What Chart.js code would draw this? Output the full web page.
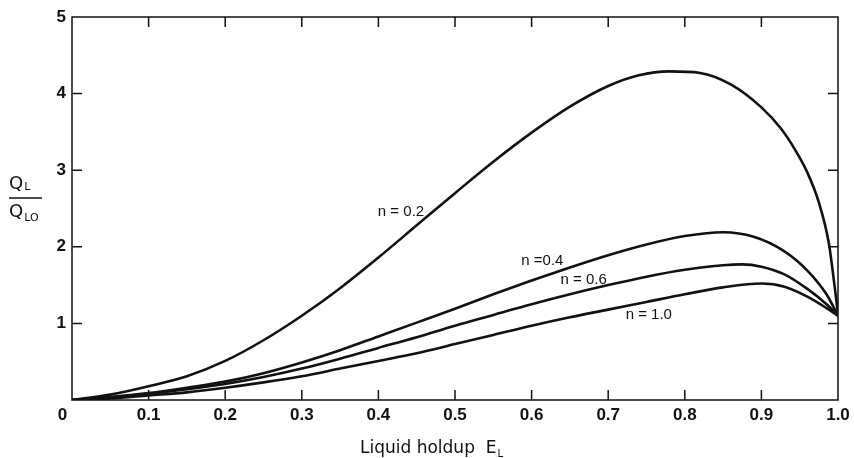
<!DOCTYPE html>
<html><head><meta charset="utf-8">
<script src="https://cdn.jsdelivr.net/npm/chart.js@4.4.0/dist/chart.umd.min.js"></script>
<style>html,body{margin:0;padding:0;background:#fff;}#wrap{width:854px;height:458px;}</style>
</head><body><div id="wrap"><canvas id="c" width="854" height="458"></canvas></div>
<script>
// ---- data ----
const xTickValues = [0,0.1,0.2,0.3,0.4,0.5,0.6,0.7,0.8,0.9,1.0];
const xTickLabels = ["0    ","0.1","0.2","0.3","0.4","0.5","0.6","0.7","0.8","0.9","1.0"];
const yTickValues = [1,2,3,4,5];
const yTickLabels = ["1","2","3","4","5"];

const seriesNames = ["n = 0.2","n = 0.4","n = 0.6","n = 1.0"];

const x_n02 = [0,0.05,0.1,0.15,0.2,0.25,0.3,0.35,0.4,0.45,0.5,0.55,0.6,0.65,0.7,0.74,0.78,0.82,0.86,0.9,0.925,0.945,0.96,0.975,0.988,0.996,1.0];
const y_n02 = [0,0.07,0.18,0.31,0.51,0.78,1.10,1.46,1.86,2.28,2.70,3.11,3.49,3.83,4.10,4.24,4.29,4.27,4.12,3.82,3.55,3.25,2.97,2.58,2.05,1.45,1.12];

const x_n04 = [0,0.05,0.1,0.15,0.2,0.25,0.3,0.35,0.4,0.45,0.5,0.55,0.6,0.65,0.7,0.75,0.8,0.85,0.89,0.93,0.96,0.985,1.0];
const y_n04 = [0,0.04,0.09,0.16,0.24,0.35,0.49,0.65,0.83,1.01,1.19,1.38,1.56,1.73,1.89,2.03,2.14,2.19,2.13,1.94,1.69,1.38,1.10];

const x_n06 = [0,0.05,0.1,0.15,0.2,0.25,0.3,0.35,0.4,0.45,0.5,0.55,0.6,0.65,0.7,0.75,0.8,0.85,0.875,0.9,0.93,0.96,0.985,1.0];
const y_n06 = [0,0.03,0.08,0.14,0.21,0.30,0.41,0.54,0.68,0.82,0.97,1.11,1.25,1.38,1.50,1.61,1.70,1.76,1.77,1.74,1.64,1.45,1.25,1.10];

const x_n10 = [0,0.05,0.1,0.15,0.2,0.25,0.3,0.35,0.4,0.45,0.5,0.55,0.6,0.65,0.7,0.75,0.8,0.85,0.9,0.93,0.96,0.985,1.0];
const y_n10 = [0,0.02,0.06,0.10,0.16,0.23,0.31,0.41,0.51,0.61,0.73,0.85,0.97,1.08,1.18,1.28,1.38,1.47,1.52,1.48,1.35,1.20,1.10];

const curveLabelTexts = ["n = 0.2","n =0.4","n = 0.6","n = 1.0"];
const curveLabelX = [0.4295,0.614,0.668,0.753];
const curveLabelY = [2.45,1.81,1.57,1.11];

const xTitle = "Liquid holdup  E";
const xTitleSub = "L";
const yTitleNum = "Q", yTitleNumSub = "L";
const yTitleDen = "Q", yTitleDenSub = "LO";

// ---- build ----
function pts(xs, ys){ return xs.map((x,i)=>({x:x,y:ys[i]})); }
const allX = [x_n02,x_n04,x_n06,x_n10];
const allY = [y_n02,y_n04,y_n06,y_n10];

const INK = '#111111';

const decor = {
  id:'decor',
  afterDatasetsDraw(chart){
    const ctx = chart.ctx, a = chart.chartArea;
    const xs = chart.scales.x, ys = chart.scales.y;
    ctx.save();
    ctx.strokeStyle = INK; ctx.lineWidth = 1.5;
    ctx.strokeRect(a.left, a.top, a.right-a.left, a.bottom-a.top);
    const tl = 10;
    ctx.beginPath();
    xTickValues.forEach(v=>{
      if (v<=0 || v>=1) return;
      const px = xs.getPixelForValue(v);
      ctx.moveTo(px, a.bottom); ctx.lineTo(px, a.bottom-tl);
      ctx.moveTo(px, a.top); ctx.lineTo(px, a.top+tl);
    });
    yTickValues.forEach(v=>{
      if (v>=5) return;
      const py = ys.getPixelForValue(v);
      ctx.moveTo(a.left, py); ctx.lineTo(a.left+tl, py);
      ctx.moveTo(a.right, py); ctx.lineTo(a.right-tl, py);
    });
    ctx.stroke();

    // curve labels
    ctx.fillStyle = INK;
    ctx.font = '15px "Liberation Sans", Arial, sans-serif';
    ctx.textAlign = 'center'; ctx.textBaseline = 'middle';
    curveLabelTexts.forEach((t,i)=>{
      ctx.fillText(t, xs.getPixelForValue(curveLabelX[i]), ys.getPixelForValue(curveLabelY[i]));
    });

    // x title
    ctx.textAlign = 'left'; ctx.textBaseline = 'alphabetic';
    ctx.font = '17px "DejaVu Sans", sans-serif';
    ctx.fillText(xTitle, 360, 453);
    const w = ctx.measureText(xTitle).width;
    ctx.font = '10px "DejaVu Sans", sans-serif';
    ctx.fillText(xTitleSub, 360+w+1, 457);

    // y title (fraction)
    ctx.font = '18px "DejaVu Sans", sans-serif';
    ctx.fillText(yTitleNum, 9, 189);
    let wq = ctx.measureText(yTitleNum).width;
    ctx.font = '11px "DejaVu Sans", sans-serif';
    ctx.fillText(yTitleNumSub, 9+wq+1, 190);
    ctx.font = '18px "DejaVu Sans", sans-serif';
    ctx.fillText(yTitleDen, 9, 217);
    ctx.font = '11px "DejaVu Sans", sans-serif';
    ctx.fillText(yTitleDenSub, 9+wq+1, 221);
    ctx.beginPath(); ctx.lineWidth = 1.5;
    ctx.moveTo(9, 198); ctx.lineTo(42, 198); ctx.stroke();
    ctx.restore();
  }
};

const tickFont = {family:'"Liberation Sans", Arial, sans-serif', size:17, weight:'bold'};

new Chart(document.getElementById('c'), {
  type:'scatter',
  data:{
    datasets: allX.map((xs,i)=>({
      label: seriesNames[i],
      data: pts(xs, allY[i]),
      showLine:true,
      borderColor:INK,
      backgroundColor:INK,
      borderWidth:2.6,
      pointRadius:0,
      cubicInterpolationMode:'monotone',
      fill:false
    }))
  },
  options:{
    responsive:false,
    animation:false,
    devicePixelRatio:1,
    layout:{padding:{left:0,right:16,top:17,bottom:0}},
    plugins:{legend:{display:false}, tooltip:{enabled:false}},
    scales:{
      x:{
        type:'linear', min:0, max:1,
        afterBuildTicks(s){ s.ticks = xTickValues.map(v=>({value:v})); },
        afterFit(s){ s.height = 58; s.paddingLeft = 0; s.paddingRight = 0; },
        ticks:{ autoSkip:false, maxRotation:0, color:INK, font:tickFont, padding:5,
          callback:(v,i)=>xTickLabels[i] },
        grid:{display:false, drawTicks:false},
        border:{display:false}
      },
      y:{
        type:'linear', min:0, max:5,
        afterBuildTicks(s){ s.ticks = yTickValues.map(v=>({value:v})); },
        afterFit(s){ s.width = 72; s.paddingTop = 0; s.paddingBottom = 0; },
        ticks:{ color:INK, font:tickFont, padding:6,
          callback:(v,i)=>yTickLabels[i] },
        grid:{display:false, drawTicks:false},
        border:{display:false}
      }
    }
  },
  plugins:[decor]
});
</script>
</body></html>
